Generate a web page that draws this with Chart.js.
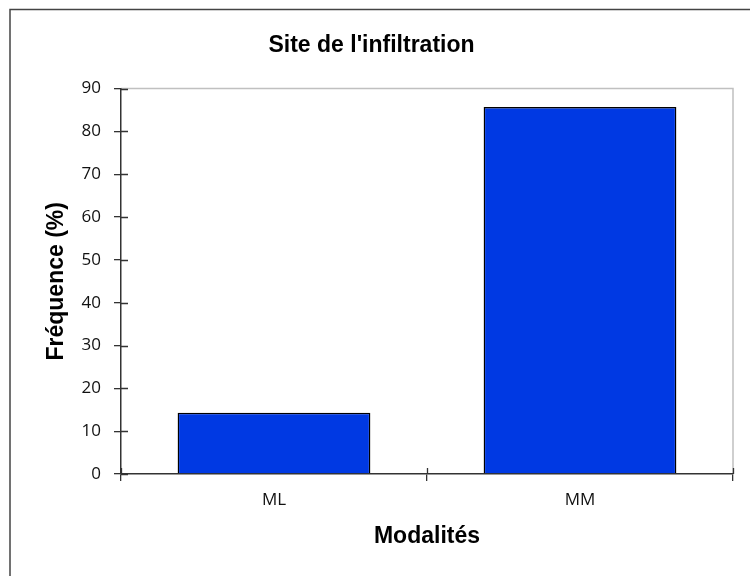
<!DOCTYPE html>
<html><head><meta charset="utf-8">
<script src="https://cdn.jsdelivr.net/npm/chart.js@4/dist/chart.umd.min.js"></script>
<style>html,body{margin:0;padding:0;background:#fff}#wrap{width:750px;height:576px;position:relative}</style>
</head><body><div id="wrap"><canvas id="c" width="750" height="576"></canvas></div>
<script>
const categories = ['ML', 'MM'];
const frequencies = [14.3, 85.7];
const yTicks = [0, 10, 20, 30, 40, 50, 60, 70, 80, 90];
const chartTitle = "Site de l'infiltration";
const xTitle = 'Modalités';
const yTitle = 'Fréquence (%)';

const decor = {
  id: 'decor',
  beforeDraw(chart) {
    const ctx = chart.ctx;
    ctx.save();
    ctx.fillStyle = '#fff';
    ctx.fillRect(0, 0, chart.width, chart.height);
    ctx.strokeStyle = '#444';
    ctx.lineWidth = 1.5;
    ctx.beginPath();
    ctx.moveTo(10, 600); ctx.lineTo(10, 9.5); ctx.lineTo(800, 9.5);
    ctx.stroke();
    const a = chart.chartArea;
    ctx.strokeStyle = '#c0c0c0';
    ctx.lineWidth = 1.5;
    ctx.beginPath();
    ctx.moveTo(a.left, a.top); ctx.lineTo(a.right, a.top); ctx.lineTo(a.right, a.bottom);
    ctx.stroke();
    ctx.restore();
  },
  afterDraw(chart) {
    const ctx = chart.ctx;
    const y = chart.scales.y;
    const x = chart.scales.x;
    const a = chart.chartArea;
    ctx.save();
    ctx.strokeStyle = '#333';
    ctx.lineWidth = 1.3;
    ctx.beginPath();
    yTicks.forEach(v => {
      const py = Math.round(y.getPixelForValue(v)) + 0.5;
      ctx.moveTo(a.left, py); ctx.lineTo(a.left + 7, py);
    });
    for (let i = 0; i <= categories.length; i++) {
      const px = Math.round(x.getPixelForValue(i - 0.5)) + 0.5;
      ctx.moveTo(px, a.bottom); ctx.lineTo(px, a.bottom - 6);
    }
    ctx.stroke();
    ctx.restore();
  }
};

new Chart(document.getElementById('c'), {
  type: 'bar',
  data: {
    labels: categories,
    datasets: [{
      data: frequencies,
      backgroundColor: '#0039e3',
      borderColor: '#000',
      borderWidth: 1.5,
      categoryPercentage: 0.63,
      barPercentage: 1
    }]
  },
  options: {
    responsive: false,
    animation: false,
    layout: { padding: { left: 10, right: 17, top: 0, bottom: 26 } },
    plugins: {
      legend: { display: false },
      tooltip: { enabled: false },
      title: {
        display: true,
        text: chartTitle,
        color: '#000',
        font: { family: 'Liberation Sans', size: 23, weight: 'bold' },
        padding: { top: 32, bottom: 29 }
      }
    },
    scales: {
      x: {
        offset: true,
        grid: { drawOnChartArea: false, offset: true, tickLength: 7, color: '#333', lineWidth: 1.3 },
        border: { color: '#333', width: 1.5 },
        ticks: { color: '#111', font: { family: 'Open Sans', size: 17 }, padding: 9 },
        title: { display: true, text: xTitle, color: '#000', font: { family: 'Liberation Sans', size: 23, weight: 'bold' }, padding: { top: 3, bottom: 0 } }
      },
      y: {
        min: 0, max: 90,
        afterBuildTicks(s) { s.ticks = yTicks.map(v => ({ value: v })); },
        afterFit(s) { s.width = 111; },
        grid: { drawOnChartArea: false, tickLength: 7, color: '#333', lineWidth: 1.3 },
        border: { color: '#333', width: 1.5 },
        ticks: { color: '#111', font: { family: 'Open Sans', size: 17 }, padding: 13 },
        title: { display: true, text: yTitle, color: '#000', font: { family: 'Liberation Sans', size: 23, weight: 'bold' }, padding: { top: 33, bottom: 0 } }
      }
    }
  },
  plugins: [decor]
});
</script></body></html>
